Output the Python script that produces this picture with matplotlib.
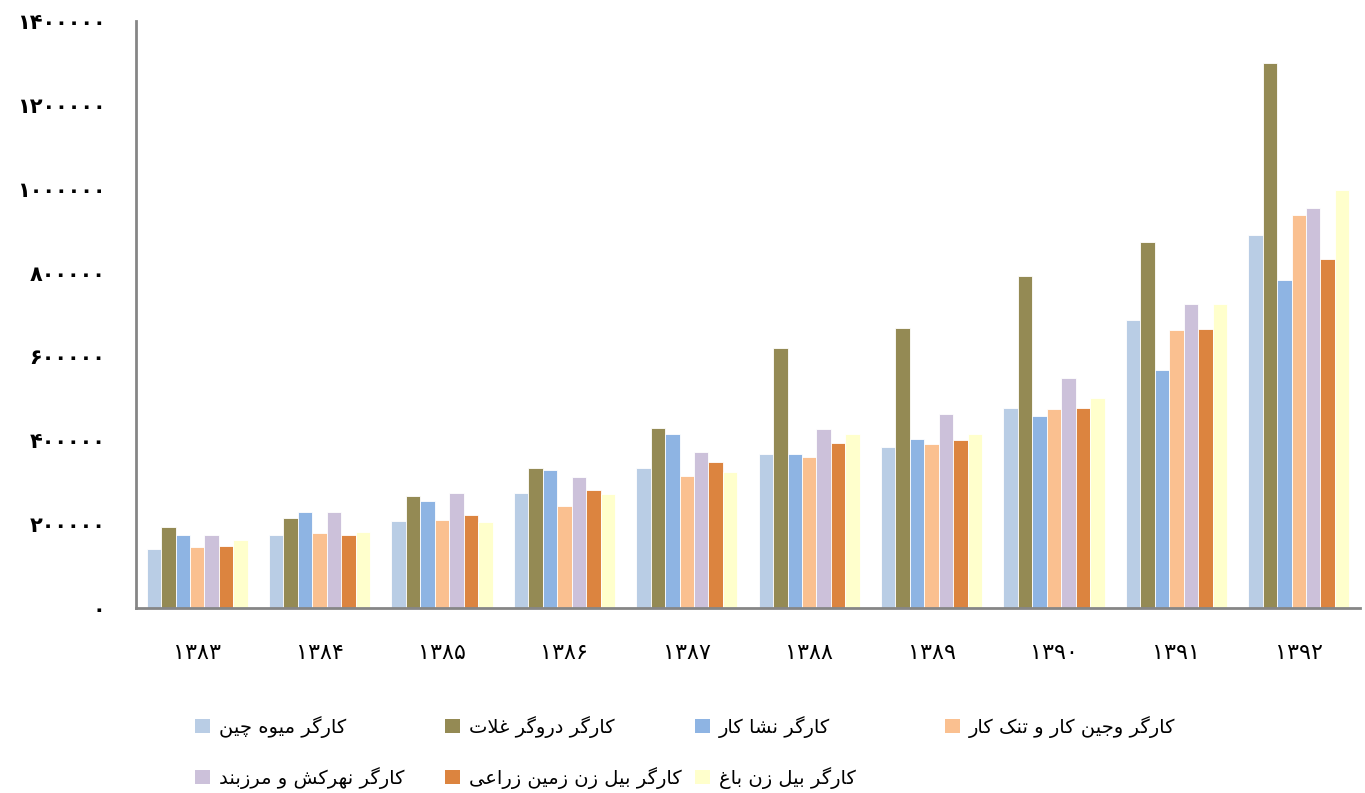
import numpy as np
import matplotlib
matplotlib.use('Agg')
import matplotlib.pyplot as plt
from matplotlib.patches import Patch
from matplotlib.ticker import FuncFormatter

plt.rcParams['font.family'] = ['DejaVu Sans']

years = [1383, 1384, 1385, 1386, 1387, 1388, 1389, 1390, 1391, 1392]

labels = [
    'کارگر میوه چین',
    'کارگر دروگر غلات',
    'کارگر نشا کار',
    'کارگر وجین کار و تنک کار',
    'کارگر نهرکش و مرزبند',
    'کارگر بیل زن زمین زراعی',
    'کارگر بیل زن باغ',
]

fruit = [140000, 175000, 208000, 275000, 333000, 367000, 383000, 476000, 686000, 890000]
harvest = [192000, 214000, 268000, 335000, 429000, 621000, 668000, 792000, 873000, 1301000]
nesha = [175000, 228000, 256000, 329000, 415000, 367000, 404000, 457000, 567000, 783000]
weeding = [145000, 179000, 209000, 243000, 316000, 359000, 391000, 474000, 663000, 938000]
canal = [175000, 229000, 275000, 312000, 371000, 427000, 462000, 548000, 726000, 955000]
farm_spade = [148000, 175000, 221000, 282000, 348000, 393000, 400000, 476000, 666000, 833000]
garden_spade = [163000, 181000, 205000, 271000, 325000, 414000, 416000, 501000, 725000, 996000]

series = [fruit, harvest, nesha, weeding, canal, farm_spade, garden_spade]
colors = ['#B9CDE5', '#948A54', '#8EB4E3', '#FAC090', '#CCC1DA', '#DC843F', '#FFFFCC']

# presentation forms: (isolated, final, initial, medial)
FORMS = {
    'ا': ('\uFE8D', '\uFE8E'),
    'ب': ('\uFE8F', '\uFE90', '\uFE91', '\uFE92'),
    'ت': ('\uFE95', '\uFE96', '\uFE97', '\uFE98'),
    'ج': ('\uFE9D', '\uFE9E', '\uFE9F', '\uFEA0'),
    'د': ('\uFEA9', '\uFEAA'),
    'ر': ('\uFEAD', '\uFEAE'),
    'ز': ('\uFEAF', '\uFEB0'),
    'ش': ('\uFEB5', '\uFEB6', '\uFEB7', '\uFEB8'),
    'ع': ('\uFEC9', '\uFECA', '\uFECB', '\uFECC'),
    'غ': ('\uFECD', '\uFECE', '\uFECF', '\uFED0'),
    'ل': ('\uFEDD', '\uFEDE', '\uFEDF', '\uFEE0'),
    'م': ('\uFEE1', '\uFEE2', '\uFEE3', '\uFEE4'),
    'ن': ('\uFEE5', '\uFEE6', '\uFEE7', '\uFEE8'),
    'ه': ('\uFEE9', '\uFEEA', '\uFEEB', '\uFEEC'),
    'و': ('\uFEED', '\uFEEE'),
    'ک': ('\uFB8E', '\uFB8F', '\uFB90', '\uFB91'),
    'گ': ('\uFB92', '\uFB93', '\uFB94', '\uFB95'),
    'چ': ('\uFB7A', '\uFB7B', '\uFB7C', '\uFB7D'),
    'ی': ('\uFBFC', '\uFBFD', '\uFBFE', '\uFBFF'),
    'لا': ('\uFEFB', '\uFEFC'),
}


def shape(s):
    """ join letters and flip to visual order """
    units = []
    i = 0
    while i < len(s):
        if s[i] == 'ل' and i + 1 < len(s) and s[i + 1] == 'ا':
            units.append('لا')
            i += 2
        else:
            units.append(s[i])
            i += 1
    out = []
    for k, u in enumerate(units):
        f = FORMS.get(u)
        if f is None:
            out.append(u)
            continue
        prev_join = k > 0 and units[k - 1] in FORMS and len(FORMS[units[k - 1]]) == 4
        next_join = len(f) == 4 and k + 1 < len(units) and units[k + 1] in FORMS
        if prev_join and next_join:
            out.append(f[3])
        elif prev_join:
            out.append(f[1])
        elif next_join:
            out.append(f[2])
        else:
            out.append(f[0])
    return ''.join(reversed(out))


def fa(n):
    return str(int(n)).translate(str.maketrans('0123456789', '۰۱۲۳۴۵۶۷۸۹'))


fig = plt.figure(figsize=(13.65, 7.93), dpi=100)
ax = fig.add_axes([136 / 1365, 1 - 608 / 793, 1224 / 1365, 587 / 793])

x = np.arange(len(years))
w = 0.118
for j, vals in enumerate(series):
    ax.bar(x + (j - 3) * w, vals, w, color=colors[j], edgecolor='white', linewidth=0.6)

ax.set_xlim(-0.5, len(years) - 0.5)
ax.set_ylim(0, 1400000)
ax.set_yticks(np.arange(0, 1400001, 200000))
ax.yaxis.set_major_formatter(FuncFormatter(lambda v, p: fa(v)))
ax.set_xticks(x)
ax.set_xticklabels([fa(y) for y in years], fontsize=16)
for t in ax.get_yticklabels():
    t.set_fontweight('bold')
    t.set_fontsize(15)
ax.tick_params(axis='both', length=0)
ax.tick_params(axis='x', pad=25)
ax.tick_params(axis='y', pad=22)
for s in ['top', 'right']:
    ax.spines[s].set_visible(False)
for s in ['left', 'bottom']:
    ax.spines[s].set_color('#868686')
    ax.spines[s].set_linewidth(2)

# legend, 4 fixed columns
handles = [Patch(facecolor=c, edgecolor='none') for c in colors]
col_x = [195, 445, 695, 945]
for c in range(4):
    idx = [c, c + 4] if c + 4 < len(labels) else [c]
    fig.legend([handles[i] for i in idx], [shape(labels[i]) for i in idx],
               loc='upper left', bbox_to_anchor=(col_x[c] / 1365, 1 - 716 / 793),
               frameon=False, fontsize=14, handlelength=0.75, handleheight=0.75,
               handletextpad=0.5, labelspacing=1.5, borderaxespad=0, borderpad=0)

fig.savefig('out.png', dpi=100)
